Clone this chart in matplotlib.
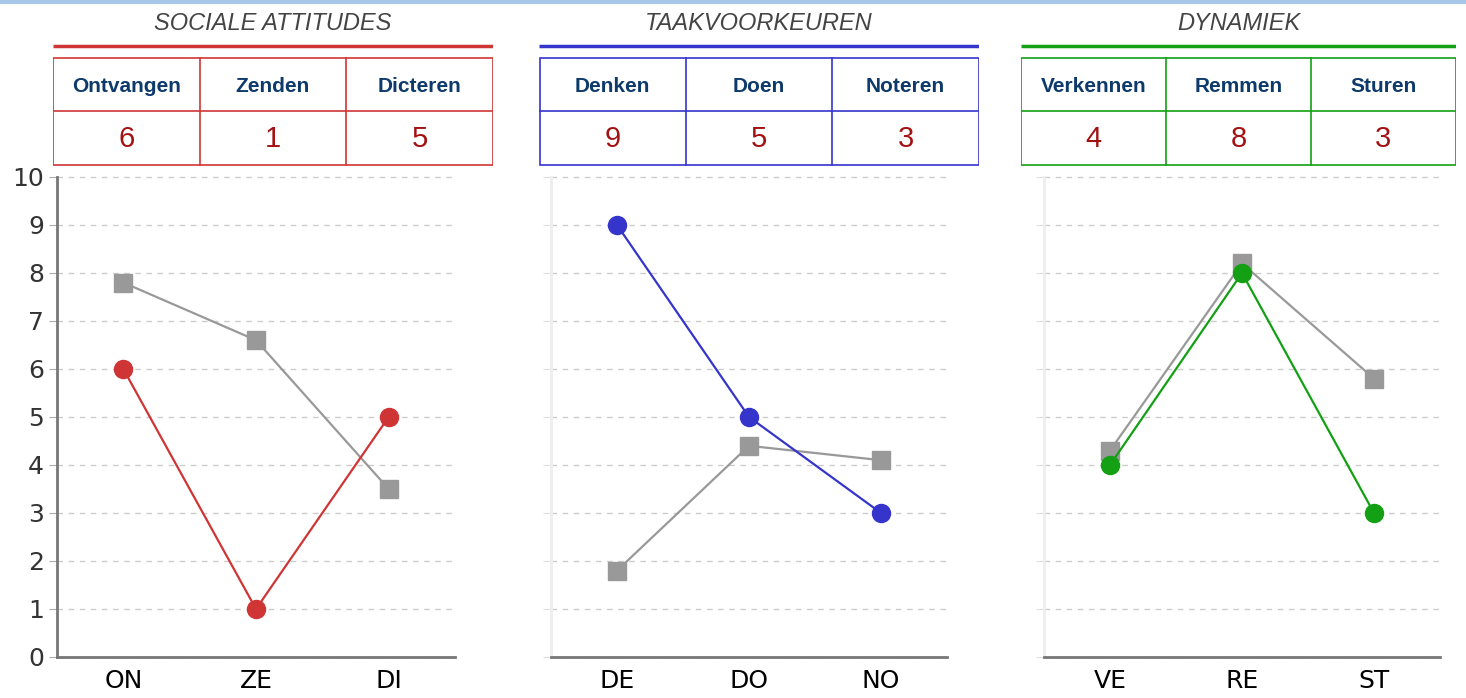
import matplotlib
matplotlib.use("Agg")
import matplotlib.pyplot as plt
from matplotlib.lines import Line2D
from matplotlib.patches import Rectangle

# data
titles = ["SOCIALE ATTITUDES", "TAAKVOORKEUREN", "DYNAMIEK"]
header_labels = [["Ontvangen", "Zenden", "Dicteren"],
                 ["Denken", "Doen", "Noteren"],
                 ["Verkennen", "Remmen", "Sturen"]]
short_labels = [["ON", "ZE", "DI"], ["DE", "DO", "NO"], ["VE", "RE", "ST"]]
scores = [[6, 1, 5], [9, 5, 3], [4, 8, 3]]
reference = [[7.8, 6.6, 3.5], [1.8, 4.4, 4.1], [4.3, 8.2, 5.8]]
colors = ["#d03535", "#3535cc", "#14a014"]

W, H = 1466, 698
fig = plt.figure(figsize=(W / 100, H / 100), dpi=100)

def box(x0, y0, x1, y1):
    # pixel box (top-left origin) -> figure fraction rect
    return [x0 / W, 1 - y1 / H, (x1 - x0) / W, (y1 - y0) / H]

# light blue line at top
fig.add_artist(Line2D([0, 1], [1 - 1.5 / H, 1 - 1.5 / H], color="#a9c7e6", lw=3))

axes_px = [(57, 455), (551, 947), (1044, 1440)]
table_px = [(53, 493), (539, 979), (1021, 1456)]

for i in range(3):
    # chart
    x0, x1 = axes_px[i]
    ax = fig.add_axes(box(x0, 177, x1, 657))
    xs = range(3)
    ax.plot(xs, reference[i], color="#999999", lw=1.6, marker="s", markersize=13, zorder=3)
    ax.plot(xs, scores[i], color=colors[i], lw=1.6, marker="o", markersize=13, zorder=4)
    ax.set_xlim(-0.5, 2.5)
    ax.set_ylim(0, 10)
    ax.set_yticks(range(0, 11))
    ax.set_xticks(list(xs))
    ax.set_xticklabels(short_labels[i], fontsize=18, color="black")
    ax.grid(axis="y", color="#cccccc", linestyle=(0, (4, 4)), lw=1)
    ax.set_axisbelow(True)
    for s in ["top", "right"]:
        ax.spines[s].set_visible(False)
    ax.spines["bottom"].set_color("#777777")
    ax.spines["bottom"].set_linewidth(2)
    ax.tick_params(axis="x", length=0, pad=9)
    if i == 0:
        ax.spines["left"].set_color("#777777")
        ax.spines["left"].set_linewidth(2)
        ax.tick_params(axis="y", labelsize=18, labelcolor="#333333", color="#aaaaaa", length=6)
    else:
        ax.spines["left"].set_color("#eeeeee")
        ax.spines["left"].set_linewidth(2)
        ax.tick_params(axis="y", labelleft=False, color="#dddddd", length=6)
    for t in ax.get_ygridlines():
        t.set_clip_on(False)

    # header table
    t0, t1 = table_px[i]
    hx = fig.add_axes(box(t0, 5, t1, 166))
    hx.set_xlim(t0, t1)
    hx.set_ylim(166, 5)
    hx.axis("off")
    hx.text((t0 + t1) / 2, 24, titles[i], ha="center", va="center", fontsize=17,
            style="italic", color="#444444", family="Liberation Sans")
    hx.plot([t0, t1], [46, 46], color=colors[i], lw=2.5, solid_capstyle="butt")
    hx.add_patch(Rectangle((t0 + 0.5, 58), t1 - t0 - 1, 107, fill=False,
                           edgecolor=colors[i], lw=1.2))
    hx.plot([t0, t1], [111, 111], color=colors[i], lw=1.2)
    cw = (t1 - t0) / 3
    for j in range(3):
        if j > 0:
            hx.plot([t0 + j * cw, t0 + j * cw], [58, 165], color=colors[i], lw=1.2)
        cx = t0 + (j + 0.5) * cw
        hx.text(cx, 87, header_labels[i][j], ha="center", va="center", fontsize=15,
                weight="bold", color="#0d3a6b", family="Liberation Sans")
        hx.text(cx, 139, str(scores[i][j]), ha="center", va="center", fontsize=21,
                color="#a31212", family="Liberation Sans")

fig.savefig("out.png", dpi=100)
